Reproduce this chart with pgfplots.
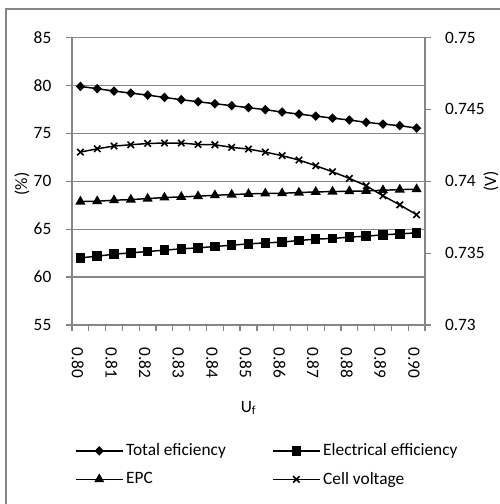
\documentclass[border=0pt]{standalone}
\usepackage{pgfplots}
\pgfplotsset{compat=1.18}
\usepackage{fontspec}
\setmainfont{Carlito}
\definecolor{gridgray}{RGB}{134,134,134}
\begin{document}
\begin{tikzpicture}[font=\fontsize{13}{15.6}\selectfont]
\useasboundingbox (0,0) rectangle (375pt,378pt);
\draw[gridgray, line width=1.2pt] (4.5pt,-10pt) -- (4.5pt,371.25pt) -- (390pt,371.25pt);
\pgfplotsset{
 common/.style={
  at={(54pt,134.25pt)}, anchor=south west,
  scale only axis, width=264.75pt, height=215.6pt,
  xmin=-0.5, xmax=20.5,
  axis line style={gridgray, line width=0.9pt},
  tick align=outside, major tick length=0pt, minor tick length=4.5pt,
  every tick/.style={gridgray, line width=0.9pt},
  /pgf/number format/assume math mode=true,
  tick label style={font=\fontsize{13}{15.6}\selectfont},
  label style={font=\fontsize{13}{15.6}\selectfont},
  every axis plot/.append style={black, line width=1.1pt, mark options={solid}},
  legend image code/.code={\draw[mark repeat=2,mark phase=2] plot coordinates {(0pt,0pt)(17.6pt,0pt)(35.2pt,0pt)};},
 }
}
\begin{axis}[common,
  axis x line*=bottom, axis y line*=left,
  ymin=55, ymax=85,
  ytick={55,60,...,85}, minor ytick={55,60,...,85},
  xtick={0,2,...,20},
  xticklabels={0.80,0.81,0.82,0.83,0.84,0.85,0.86,0.87,0.88,0.89,0.90},
  minor xtick={-0.5,0.5,...,20.5},
  ymajorgrids, grid style={gridgray, line width=0.9pt},
  yticklabel style={xshift=-12pt},
  xticklabel style={xshift=-2pt, yshift=-13.5pt, rotate=-90, anchor=west},
  xlabel={U\textsubscript{f}},
  xlabel style={at={(0.5,-0.2887)}, anchor=center},
  ylabel={(\%)},
  ylabel style={at={(-0.1416,0.49)}, anchor=center},
]
\addplot[mark=diamond*, mark size=2.8pt, mark options={xscale=1.3}] coordinates {
(0,79.90)(1,79.66)(2,79.41)(3,79.20)(4,78.99)(5,78.75)(6,78.51)(7,78.30)(8,78.09)(9,77.89)(10,77.68)
(11,77.47)(12,77.22)(13,77.01)(14,76.80)(15,76.59)(16,76.39)(17,76.15)(18,75.97)(19,75.80)(20,75.55)};
\addplot[mark=square*, mark size=3pt] coordinates {
(0,62.01)(1,62.18)(2,62.39)(3,62.53)(4,62.67)(5,62.81)(6,62.95)(7,63.05)(8,63.19)(9,63.33)(10,63.47)
(11,63.57)(12,63.65)(13,63.82)(14,63.96)(15,64.03)(16,64.17)(17,64.27)(18,64.41)(19,64.51)(20,64.62)};
\addplot[mark=triangle*, mark size=3.3pt] coordinates {
(0,67.88)(1,67.92)(2,68.02)(3,68.09)(4,68.19)(5,68.30)(6,68.37)(7,68.44)(8,68.54)(9,68.61)(10,68.68)
(11,68.73)(12,68.75)(13,68.82)(14,68.89)(15,68.92)(16,68.96)(17,68.99)(18,69.06)(19,69.13)(20,69.17)};
\end{axis}
\begin{axis}[common,
  axis x line=none, axis y line*=right,
  ymin=0.73, ymax=0.75,
  ytick={0.73,0.735,0.74,0.745,0.75}, minor ytick={0.73,0.735,0.74,0.745,0.75},
  yticklabels={0.73,0.735,0.74,0.745,0.75},
  scaled y ticks=false,
  yticklabel style={xshift=11.5pt},
  ylabel={(V)},
  ylabel style={at={(1.187,0.5)}, anchor=center},
  legend columns=2,
  legend cell align=left,
  legend style={at={(0.008,-0.4034)}, anchor=north west, draw=none, fill=none,
    inner sep=0pt, row sep=6.75pt, font=\fontsize{13}{15.6}\selectfont},
]
\addlegendimage{black, line width=1.1pt, mark=diamond*, mark size=2.8pt, mark options={xscale=1.3}}
\addlegendentry{\makebox[107.5pt][l]{Total eficiency}}
\addlegendimage{black, line width=1.1pt, mark=square*, mark size=3pt}
\addlegendentry{Electrical efficiency}
\addlegendimage{black, line width=1.1pt, mark=triangle*, mark size=3.3pt}
\addlegendentry{EPC}
\addplot[mark=x, mark size=3.4pt, mark options={line width=1.2pt}] coordinates {
(0,0.74203)(1,0.74226)(2,0.74245)(3,0.74254)(4,0.74263)(5,0.74266)(6,0.74266)(7,0.74256)(8,0.74254)(9,0.74236)(10,0.74224)
(11,0.74203)(12,0.74178)(13,0.74148)(14,0.74108)(15,0.74066)(16,0.74020)(17,0.73969)(18,0.73899)(19,0.73836)(20,0.73767)};
\addlegendentry{Cell voltage}
\end{axis}
\end{tikzpicture}
\end{document}
